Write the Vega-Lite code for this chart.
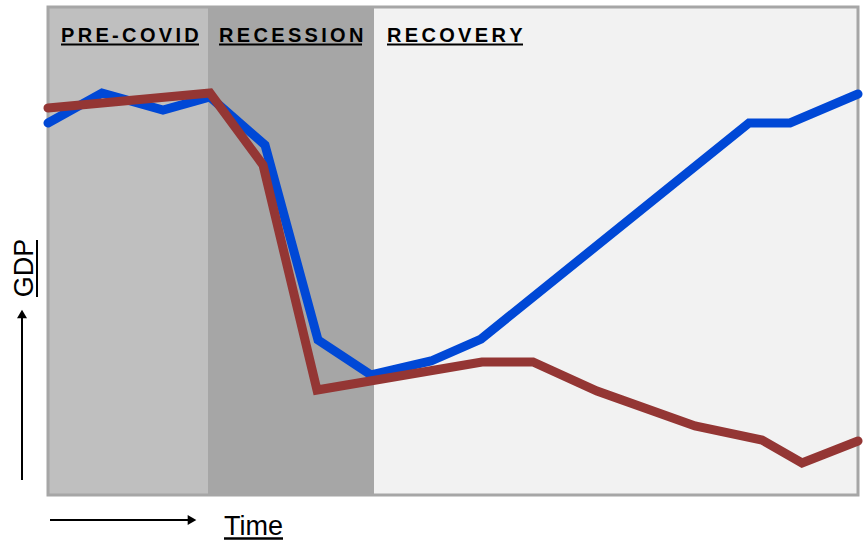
{
  "$schema": "https://vega.github.io/schema/vega-lite/v6.json",
  "width": 810,
  "height": 488,
  "autosize": {"type": "none"},
  "padding": {"left": 48, "top": 7, "right": 9, "bottom": 46},
  "background": "#ffffff",
  "view": {"stroke": null},
  "config": {
    "font": "Liberation Sans, Arial, sans-serif"
  },
  "datasets": {
    "phases": [
      {"phase": "PRE-COVID", "label": "P\u2006R\u2006E\u2006-\u2006C\u2006O\u2006V\u2006I\u2006D", "start": 0, "end": 160, "labelX": 13, "lineEnd": 151},
      {"phase": "RECESSION", "label": "R\u2006E\u2006C\u2006E\u2006S\u2006S\u2006I\u2006O\u2006N", "start": 160, "end": 326, "labelX": 171, "lineEnd": 314},
      {"phase": "RECOVERY", "label": "R\u2006E\u2006C\u2006O\u2006V\u2006E\u2006R\u2006Y", "start": 326, "end": 810, "labelX": 339, "lineEnd": 475}
    ],
    "gdp": [
      {"scenario": "rebound", "t": 0, "gdp": 372},
      {"scenario": "rebound", "t": 54, "gdp": 402},
      {"scenario": "rebound", "t": 115, "gdp": 385},
      {"scenario": "rebound", "t": 162, "gdp": 398},
      {"scenario": "rebound", "t": 217, "gdp": 350},
      {"scenario": "rebound", "t": 270, "gdp": 155},
      {"scenario": "rebound", "t": 323, "gdp": 120},
      {"scenario": "rebound", "t": 383, "gdp": 134},
      {"scenario": "rebound", "t": 433, "gdp": 156},
      {"scenario": "rebound", "t": 701, "gdp": 372},
      {"scenario": "rebound", "t": 742, "gdp": 372},
      {"scenario": "rebound", "t": 810, "gdp": 401},
      {"scenario": "slump", "t": 0, "gdp": 387},
      {"scenario": "slump", "t": 162, "gdp": 402},
      {"scenario": "slump", "t": 215, "gdp": 330},
      {"scenario": "slump", "t": 269, "gdp": 105},
      {"scenario": "slump", "t": 434, "gdp": 133},
      {"scenario": "slump", "t": 485, "gdp": 133},
      {"scenario": "slump", "t": 549, "gdp": 104},
      {"scenario": "slump", "t": 647, "gdp": 69},
      {"scenario": "slump", "t": 714, "gdp": 55},
      {"scenario": "slump", "t": 754, "gdp": 32},
      {"scenario": "slump", "t": 810, "gdp": 54}
    ],
    "frame": [{"x": 0, "x2": 810, "y": 0, "y2": 488}],
    "gdpArrow": [{"x": -26, "y": 15, "y2": 181}],
    "timeArrow": [{"x": 2, "x2": 144, "y": -25}],
    "heads": [
      {"x": -26, "y": 181, "shape": "triangle-up"},
      {"x": 144, "y": -25, "shape": "triangle-right"}
    ],
    "gdpTitle": [{"text": "GDP", "x": -15, "y": 227, "ux": -11, "uy": 198, "uy2": 255}],
    "timeTitle": [{"text": "Time", "x": 205.5, "y": -40, "ux": 176, "ux2": 235, "uy": -43.5}]
  },
  "encoding": {},
  "layer": [
    {
      "data": {"name": "phases"},
      "mark": {"type": "rect", "stroke": null},
      "encoding": {
        "x": {"field": "start", "type": "quantitative", "scale": {"domain": [0, 810], "nice": false, "zero": false}, "axis": null},
        "x2": {"field": "end"},
        "y": {"datum": 0, "type": "quantitative", "scale": {"domain": [0, 488], "nice": false, "zero": false}, "axis": null},
        "y2": {"datum": 488},
        "color": {
          "field": "phase",
          "type": "nominal",
          "scale": {"domain": ["PRE-COVID", "RECESSION", "RECOVERY"], "range": ["#bfbfbf", "#a6a6a6", "#f2f2f2"]},
          "legend": null
        }
      }
    },
    {
      "data": {"name": "frame"},
      "mark": {"type": "rect", "fill": null, "stroke": "#a6a6a6", "strokeWidth": 3},
      "encoding": {
        "x": {"field": "x", "type": "quantitative"},
        "x2": {"field": "x2"},
        "y": {"field": "y", "type": "quantitative"},
        "y2": {"field": "y2"}
      }
    },
    {
      "data": {"name": "phases"},
      "mark": {"type": "text", "align": "left", "baseline": "alphabetic", "fontSize": 20, "fontWeight": "bold", "color": "#000000"},
      "encoding": {
        "x": {"field": "labelX", "type": "quantitative"},
        "y": {"datum": 453, "type": "quantitative"},
        "text": {"field": "label"}
      }
    },
    {
      "data": {"name": "phases"},
      "mark": {"type": "rule", "color": "#000000", "strokeWidth": 2},
      "encoding": {
        "x": {"field": "labelX", "type": "quantitative"},
        "x2": {"field": "lineEnd"},
        "y": {"datum": 450.5, "type": "quantitative"}
      }
    },
    {
      "data": {"name": "gdp"},
      "mark": {"type": "line", "strokeWidth": 9, "strokeCap": "round", "strokeJoin": "miter", "clip": false},
      "encoding": {
        "x": {"field": "t", "type": "quantitative"},
        "y": {"field": "gdp", "type": "quantitative"},
        "stroke": {
          "field": "scenario",
          "type": "nominal",
          "scale": {"domain": ["rebound", "slump"], "range": ["#0048d6", "#943634"]},
          "legend": null
        },
        "order": {"field": "t", "type": "quantitative"}
      }
    },
    {
      "data": {"name": "gdpArrow"},
      "mark": {"type": "rule", "color": "#000000", "strokeWidth": 2},
      "encoding": {
        "x": {"field": "x", "type": "quantitative"},
        "y": {"field": "y", "type": "quantitative"},
        "y2": {"field": "y2"}
      }
    },
    {
      "data": {"name": "timeArrow"},
      "mark": {"type": "rule", "color": "#000000", "strokeWidth": 2},
      "encoding": {
        "x": {"field": "x", "type": "quantitative"},
        "x2": {"field": "x2"},
        "y": {"field": "y", "type": "quantitative"}
      }
    },
    {
      "data": {"name": "heads"},
      "mark": {"type": "point", "filled": true, "color": "#000000", "size": 100, "opacity": 1},
      "encoding": {
        "x": {"field": "x", "type": "quantitative"},
        "y": {"field": "y", "type": "quantitative"},
        "shape": {"field": "shape", "type": "nominal", "scale": null}
      }
    },
    {
      "data": {"name": "gdpTitle"},
      "layer": [
        {
          "mark": {"type": "text", "angle": 270, "align": "center", "baseline": "alphabetic", "fontSize": 27, "color": "#000000"},
          "encoding": {
            "x": {"field": "x", "type": "quantitative"},
            "y": {"field": "y", "type": "quantitative"},
            "text": {"field": "text"}
          }
        },
        {
          "mark": {"type": "rule", "color": "#000000", "strokeWidth": 2},
          "encoding": {
            "x": {"field": "ux", "type": "quantitative"},
            "y": {"field": "uy", "type": "quantitative"},
            "y2": {"field": "uy2"}
          }
        }
      ]
    },
    {
      "data": {"name": "timeTitle"},
      "layer": [
        {
          "mark": {"type": "text", "align": "center", "baseline": "alphabetic", "fontSize": 27, "color": "#000000"},
          "encoding": {
            "x": {"field": "x", "type": "quantitative"},
            "y": {"field": "y", "type": "quantitative"},
            "text": {"field": "text"}
          }
        },
        {
          "mark": {"type": "rule", "color": "#000000", "strokeWidth": 2.5},
          "encoding": {
            "x": {"field": "ux", "type": "quantitative"},
            "x2": {"field": "ux2"},
            "y": {"field": "uy", "type": "quantitative"}
          }
        }
      ]
    }
  ]
}
